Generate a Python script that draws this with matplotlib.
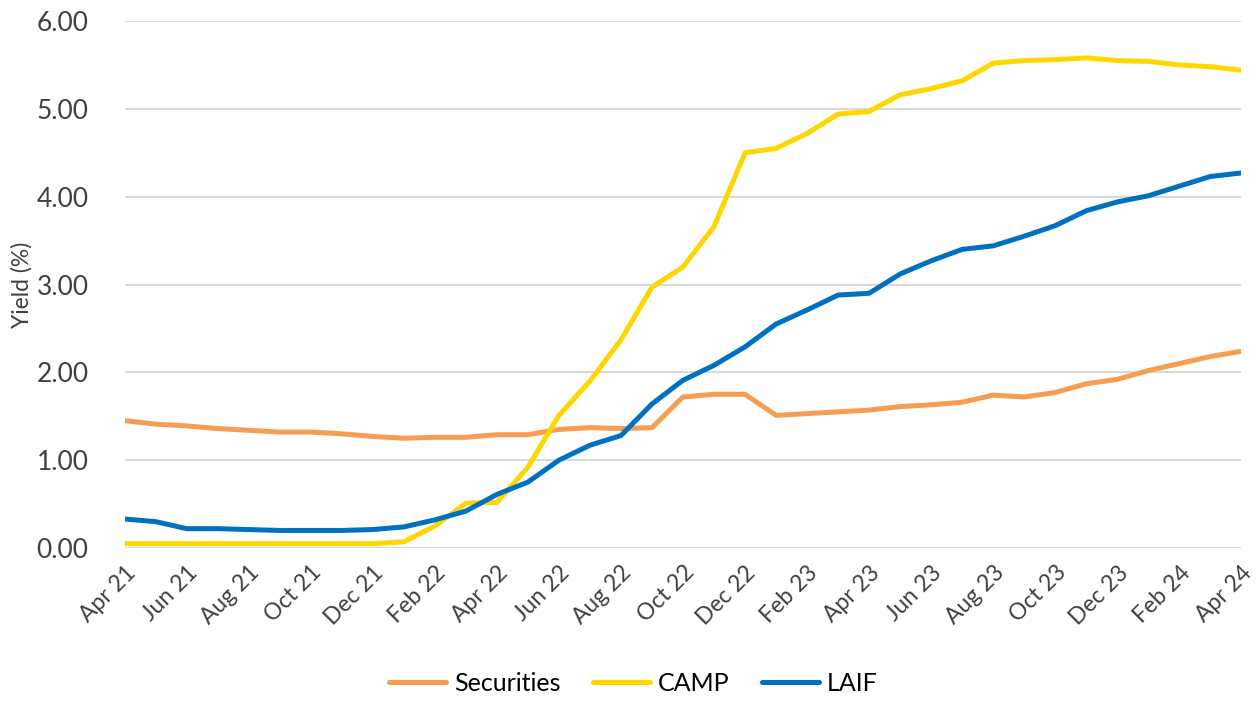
import numpy as np
import matplotlib.pyplot as plt

months = ["Apr 21", "May 21", "Jun 21", "Jul 21", "Aug 21", "Sep 21", "Oct 21", "Nov 21", "Dec 21",
          "Jan 22", "Feb 22", "Mar 22", "Apr 22", "May 22", "Jun 22", "Jul 22", "Aug 22", "Sep 22",
          "Oct 22", "Nov 22", "Dec 22", "Jan 23", "Feb 23", "Mar 23", "Apr 23", "May 23", "Jun 23",
          "Jul 23", "Aug 23", "Sep 23", "Oct 23", "Nov 23", "Dec 23", "Jan 24", "Feb 24", "Mar 24",
          "Apr 24"]

securities = [1.45, 1.41, 1.39, 1.36, 1.34, 1.32, 1.32, 1.30, 1.27,
              1.25, 1.26, 1.26, 1.29, 1.29, 1.35, 1.37, 1.36, 1.37,
              1.72, 1.75, 1.75, 1.51, 1.53, 1.55, 1.57, 1.61, 1.63,
              1.66, 1.74, 1.72, 1.77, 1.87, 1.92, 2.02, 2.10, 2.18,
              2.24]
camp = [0.05, 0.05, 0.05, 0.05, 0.05, 0.05, 0.05, 0.05, 0.05,
        0.07, 0.25, 0.51, 0.52, 0.92, 1.51, 1.90, 2.37, 2.97,
        3.20, 3.66, 4.50, 4.55, 4.72, 4.94, 4.97, 5.16, 5.23,
        5.32, 5.52, 5.55, 5.56, 5.58, 5.55, 5.54, 5.50, 5.48,
        5.44]
laif = [0.33, 0.30, 0.22, 0.22, 0.21, 0.20, 0.20, 0.20, 0.21,
        0.24, 0.32, 0.42, 0.61, 0.75, 1.00, 1.17, 1.28, 1.64,
        1.91, 2.08, 2.29, 2.55, 2.71, 2.88, 2.90, 3.12, 3.27,
        3.40, 3.44, 3.55, 3.67, 3.84, 3.94, 4.01, 4.12, 4.23,
        4.27]

plt.rcParams['font.family'] = ['Lato', 'DejaVu Sans']

fig = plt.figure(figsize=(12.59, 7.05), dpi=100)
ax = fig.add_axes([0.099, 0.2227, 0.887, 0.7475])

x = np.arange(len(months))
ax.plot(x, securities, color="#F79D52", lw=3.6, label="Securities", solid_capstyle="round")
ax.plot(x, camp, color="#FFD700", lw=3.6, label="CAMP", solid_capstyle="round")
ax.plot(x, laif, color="#0070C0", lw=3.6, label="LAIF", solid_capstyle="round")

ax.set_xlim(0, len(months) - 1)
ax.set_ylim(0, 6)
ax.set_yticks(np.arange(0, 7, 1))
ax.set_yticklabels([f"{v:.2f}" for v in range(7)], fontsize=19, color="#404040")
ax.set_xticks(x[::2])
ax.set_xticklabels(months[::2], rotation=45, ha="right", va="top", rotation_mode="anchor",
                   fontsize=16.5, color="#404040")
ax.tick_params(axis="y", length=0, pad=26)
ax.tick_params(axis="x", length=0, pad=10)
ax.grid(axis="y", color="#D9D9D9", lw=1.5)
ax.set_axisbelow(True)
for s in ax.spines.values():
    s.set_visible(False)

ax.set_ylabel("Yield (%)", fontsize=16.5, color="#404040")
ax.yaxis.set_label_coords(-0.082, 0.5)

fig.legend(loc="lower center", bbox_to_anchor=(0.503, -0.018), ncol=3, frameon=False,
           fontsize=18, handlelength=2.3, columnspacing=1.3, handletextpad=0.3)

fig.savefig("out.png", dpi=100)
